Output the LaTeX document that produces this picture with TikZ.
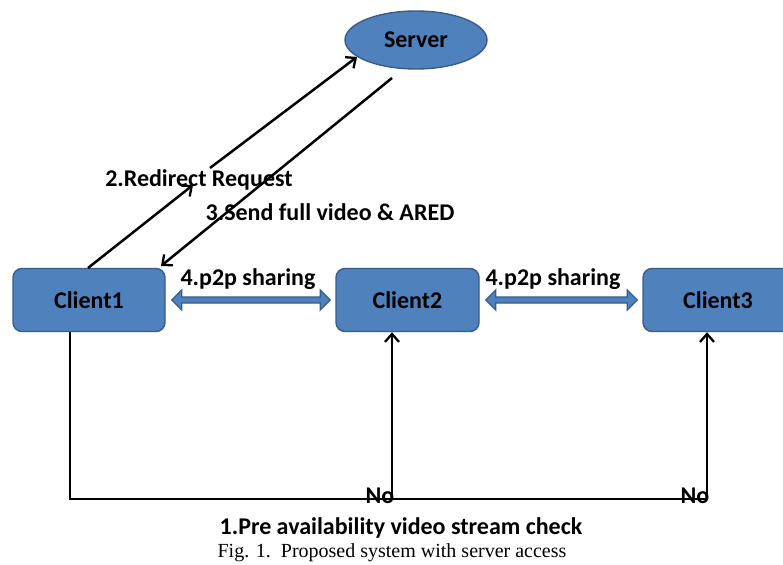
\documentclass[tikz,border=0pt]{standalone}
\usepackage{fontspec}
\setmainfont{Carlito}
\newfontfamily\capfont{Liberation Serif}
\usetikzlibrary{calc,shapes.geometric,arrows.meta}
\definecolor{boxfill}{HTML}{4F81BD}
\definecolor{boxline}{HTML}{385D8A}
\tikzset{
  client/.style={draw=boxline, line width=1.4pt, fill=boxfill, rounded corners=9pt,
    minimum height=63pt, inner sep=0pt, font=\fontsize{24}{26}\selectfont\bfseries},
  server/.style={ellipse, draw=boxline, line width=1.4pt, fill=boxfill,
    minimum width=142pt, minimum height=58pt, inner sep=0pt, font=\fontsize{24}{26}\selectfont\bfseries},
  lbl/.style={font=\fontsize{24}{26}\selectfont\bfseries, inner sep=0pt, anchor=base},
  conn/.style={draw=black, line width=2.5pt, -{Straight Barb[length=8pt,width=14pt,line width=2.3pt]}},
  plain/.style={draw=black, line width=2.5pt},
  blockarrow/.style={draw=boxline, line width=1.3pt, fill=boxfill, line join=miter}
}
\begin{document}
\begin{tikzpicture}[x=1pt,y=-1pt]
\clip (0,0) rectangle (783,564);
\fill[white] (0,0) rectangle (783,564);
% nodes
\node[server] (srv) at (416,40) {Server};
\node[client, minimum width=152pt] (c1) at (89,300) {Client1};
\node[client, minimum width=143pt] (c2) at (407.5,300) {Client2};
\node[client, minimum width=150pt] (c3) at (718,300) {Client3};
% coordinates for the arrows
\coordinate (a1s) at (88,268);
\coordinate (a1e) at (193,185);
\coordinate (a2s) at (210,168);
\coordinate (a3s) at (392,78);
\coordinate (a3e) at (161,266);
\coordinate (b1) at (70,499);
\coordinate (b2) at (392,499);
\coordinate (b3) at (707,499);
% server connectors
\draw[conn] (a1s) -- (a1e);
\draw[conn] (a2s) -- (srv.196);
\draw[conn] (a3s) -- (a3e);
% block arrows
\path let \p1=($(c1.east)+(6pt,0)$), \p2=($(c2.west)+(-5pt,0)$) in
  [blockarrow] (\x1,\y1) -- (\x1+10pt,\y1+10pt) -- (\x1+10pt,\y1+3pt) -- (\x2-10pt,\y1+3pt)
  -- (\x2-10pt,\y1+10pt) -- (\x2,\y1) -- (\x2-10pt,\y1-10pt) -- (\x2-10pt,\y1-3pt)
  -- (\x1+10pt,\y1-3pt) -- (\x1+10pt,\y1-10pt) -- cycle;
\path let \p1=($(c2.east)+(6pt,0)$), \p2=($(c3.west)+(-5pt,0)$) in
  [blockarrow] (\x1,\y1) -- (\x1+10pt,\y1+10pt) -- (\x1+10pt,\y1+3pt) -- (\x2-10pt,\y1+3pt)
  -- (\x2-10pt,\y1+10pt) -- (\x2,\y1) -- (\x2-10pt,\y1-10pt) -- (\x2-10pt,\y1-3pt)
  -- (\x1+10pt,\y1-3pt) -- (\x1+10pt,\y1-10pt) -- cycle;
% bottom loop
\draw[plain] (c1.south -| b1) -- (b1) -- (b3);
\draw[conn] (b2) -- (c2.south -| b2);
\draw[conn] (b3) -- (c3.south -| b3);
% labels
\node[lbl] (l2) at (199,186) {2.Redirect Request};
\node[lbl] (l3) at (330,220) {3.Send full video \& ARED};
\node[lbl] (l4a) at (248,285) {4.p2p sharing};
\node[lbl] (l4b) at (553,285) {4.p2p sharing};
\node[lbl] (no1) at (380,503) {No};
\node[lbl] (no2) at (695,503) {No};
\node[lbl] (l1) at (401,534) {1.Pre availability video stream check};
\node[inner sep=0pt, anchor=base, font=\capfont\fontsize{20}{22}\selectfont] (cap) at (392,557) {Fig. 1.\ \ Proposed system with server access};
\end{tikzpicture}
\end{document}
